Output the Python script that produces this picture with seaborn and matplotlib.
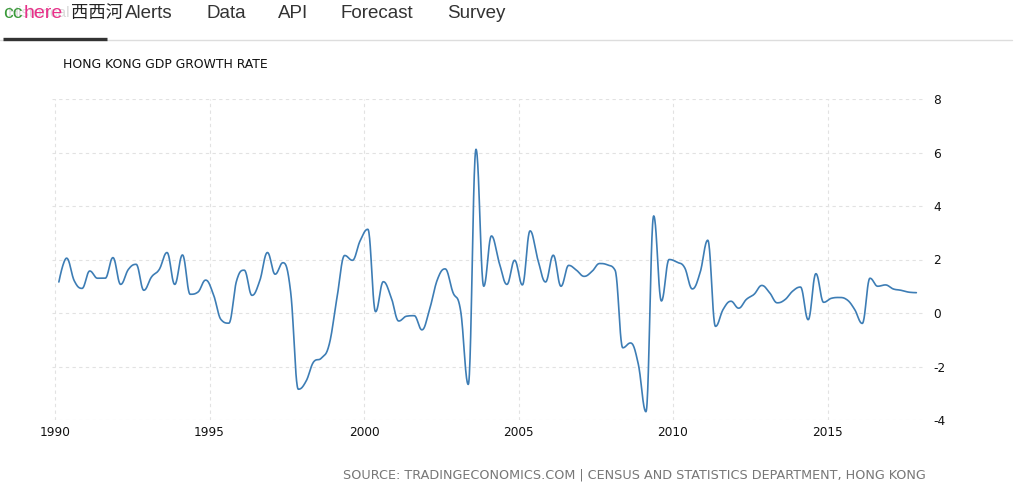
import numpy as np
import pandas as pd
import matplotlib
matplotlib.use("Agg")
import matplotlib.pyplot as plt
import seaborn as sns

# ---- data (quarterly GDP growth, QoQ %) ----
years = list(range(1990, 2018))
quarters = [1, 2, 3, 4]
growth = [
    1.16, 2.05, 1.20, 0.92,    # 1990
    1.57, 1.30, 1.30, 2.07,    # 1991
    1.07, 1.63, 1.82, 0.85,    # 1992
    1.35, 1.63, 2.26, 1.07,    # 1993
    2.17, 0.70, 0.78, 1.23,    # 1994
    0.70, -0.25, -0.38, 1.20,  # 1995
    1.60, 0.66, 1.20, 2.26,    # 1996
    1.45, 1.88, 0.80, -2.85,   # 1997
    -2.55, -1.82, -1.68, -1.17,  # 1998
    0.57, 2.15, 1.97, 2.70,    # 1999
    3.13, 0.05, 1.17, 0.60,    # 2000
    -0.30, -0.12, -0.10, -0.63,  # 2001
    0.15, 1.25, 1.65, 0.78,    # 2002
    0.10, -2.67, 6.12, 1.00,   # 2003
    2.88, 1.88, 1.07, 1.97,    # 2004
    1.05, 3.07, 2.00, 1.16,    # 2005
    2.16, 1.00, 1.78, 1.60,    # 2006
    1.37, 1.55, 1.85, 1.80,    # 2007
    1.60, -1.30, -1.12, -1.90,  # 2008
    -3.69, 3.63, 0.45, 2.00,   # 2009
    1.90, 1.70, 0.90, 1.50,    # 2010
    2.72, -0.50, 0.14, 0.44,   # 2011
    0.18, 0.51, 0.70, 1.03,    # 2012
    0.76, 0.38, 0.50, 0.82,    # 2013
    0.97, -0.25, 1.47, 0.40,   # 2014
    0.55, 0.58, 0.50, 0.14,    # 2015
    -0.39, 1.30, 1.00, 1.05,   # 2016
    0.90, 0.85, 0.78, 0.76,    # 2017
]
xtick_years = [1990, 1995, 2000, 2005, 2010, 2015]
ytick_values = [-4, -2, 0, 2, 4, 6, 8]

title = "HONG KONG GDP GROWTH RATE"
source = "SOURCE: TRADINGECONOMICS.COM | CENSUS AND STATISTICS DEPARTMENT, HONG KONG"
nav_items = ["Alerts", "Data", "API", "Forecast", "Survey"]

# ---- build table ----
t = np.array([y + (q - 0.5) / 4.0 for y in years for q in quarters])
v = np.array(growth, dtype=float)
df = pd.DataFrame({"time": t, "value": v})


def highcharts_spline(xs, ys, smoothing=1.5, samples=24):
    n = len(xs)
    lcx, lcy = xs.copy(), ys.copy()
    rcx, rcy = xs.copy(), ys.copy()
    denom = smoothing + 1
    for i in range(1, n - 1):
        px, py = xs[i], ys[i]
        lx, ly = xs[i - 1], ys[i - 1]
        nx, ny = xs[i + 1], ys[i + 1]
        lcX = (smoothing * px + lx) / denom
        lcY = (smoothing * py + ly) / denom
        rcX = (smoothing * px + nx) / denom
        rcY = (smoothing * py + ny) / denom
        corr = ((rcY - lcY) * (rcX - px)) / (rcX - lcX) + py - rcY
        lcY += corr
        rcY += corr
        if lcY > ly and lcY > py:
            lcY = max(ly, py)
            rcY = 2 * py - lcY
        elif lcY < ly and lcY < py:
            lcY = min(ly, py)
            rcY = 2 * py - lcY
        if rcY > ny and rcY > py:
            rcY = max(ny, py)
            lcY = 2 * py - rcY
        elif rcY < ny and rcY < py:
            rcY = min(ny, py)
            lcY = 2 * py - rcY
        lcx[i], lcy[i], rcx[i], rcy[i] = lcX, lcY, rcX, rcY
    ox, oy = [], []
    s = np.linspace(0, 1, samples, endpoint=False)
    for i in range(n - 1):
        p0 = (xs[i], ys[i]); p1 = (rcx[i], rcy[i])
        p2 = (lcx[i + 1], lcy[i + 1]); p3 = (xs[i + 1], ys[i + 1])
        b0 = (1 - s) ** 3; b1 = 3 * (1 - s) ** 2 * s; b2 = 3 * (1 - s) * s ** 2; b3 = s ** 3
        ox.append(b0 * p0[0] + b1 * p1[0] + b2 * p2[0] + b3 * p3[0])
        oy.append(b0 * p0[1] + b1 * p1[1] + b2 * p2[1] + b3 * p3[1])
    ox.append([xs[-1]]); oy.append([ys[-1]])
    return np.concatenate(ox), np.concatenate(oy)


cx, cy = highcharts_spline(df["time"].to_numpy(), df["value"].to_numpy())
curve = pd.DataFrame({"time": cx, "value": cy})

# ---- figure ----
sns.set_theme(style="white")
plt.rcParams["font.family"] = ["DejaVu Sans", "Noto Sans CJK SC"]

fig = plt.figure(figsize=(10.24, 4.92), dpi=100)
fig.patch.set_facecolor("white")
ax = fig.add_axes([52 / 1024, 1 - 420 / 492, (925 - 52) / 1024, (420 - 99) / 492])

sns.lineplot(data=curve, x="time", y="value", ax=ax, color="#3d7db5",
             linewidth=1.2, sort=False, estimator=None)

ax.set_xlim(1990 - 3 / 30.9, 1990 + 870 / 30.9)
ax.set_ylim(-4, 8)
ax.set_xticks(xtick_years)
ax.set_xticklabels([str(y) for y in xtick_years])
ax.set_yticks(ytick_values)
ax.set_yticklabels([str(y) for y in ytick_values])
ax.yaxis.tick_right()
ax.tick_params(axis="both", length=0, labelsize=8.7, colors="#111111")
ax.tick_params(axis="y", pad=6)
ax.tick_params(axis="x", pad=4)
ax.set_xlabel("")
ax.set_ylabel("")
for sp in ax.spines.values():
    sp.set_visible(False)
ax.grid(True, color="#e2e2e2", linestyle=(0, (3, 3)), linewidth=0.8)
ax.set_axisbelow(True)

# title and source
fig.text(63 / 1024, 1 - 65 / 492, title, fontsize=8.9, color="#111111",
         ha="left", va="center")
fig.text(926 / 1024, 1 - 475 / 492, source, fontsize=9.2, color="#777777",
         ha="right", va="center")

# header navigation
hy = 1 - 13 / 492
fig.text(8 / 1024, hy, "Historical", fontsize=11, color="#dadada",
         ha="left", va="center", family=["Liberation Sans"], zorder=1)
fig.text(3 / 1024, hy, "cc", fontsize=14, color="#3a9a3a",
         ha="left", va="center", family=["Liberation Sans"], zorder=2)
fig.text(24 / 1024, hy, "here", fontsize=14, color="#e8318a",
         ha="left", va="center", family=["Liberation Sans"], zorder=2)
fig.text(71 / 1024, hy, "西西河", fontsize=12.5, color="#222222",
         ha="left", va="center", family=["Noto Sans CJK SC", "DejaVu Sans"])
nav_x = [125, 206, 278, 341, 447]
for lab, xp in zip(nav_items, nav_x):
    fig.text(xp / 1024, hy, lab, fontsize=13.5, color="#333333",
             ha="left", va="center", family=["Liberation Sans"])
fig.add_artist(plt.Line2D([0, 1012 / 1024], [1 - 39.5 / 492] * 2,
                          color="#dddddd", linewidth=1))
fig.add_artist(plt.Line2D([3 / 1024, 107 / 1024], [1 - 38.5 / 492] * 2,
                          color="#333333", linewidth=2.4, solid_capstyle="butt"))

fig.savefig("out.png", dpi=100)
